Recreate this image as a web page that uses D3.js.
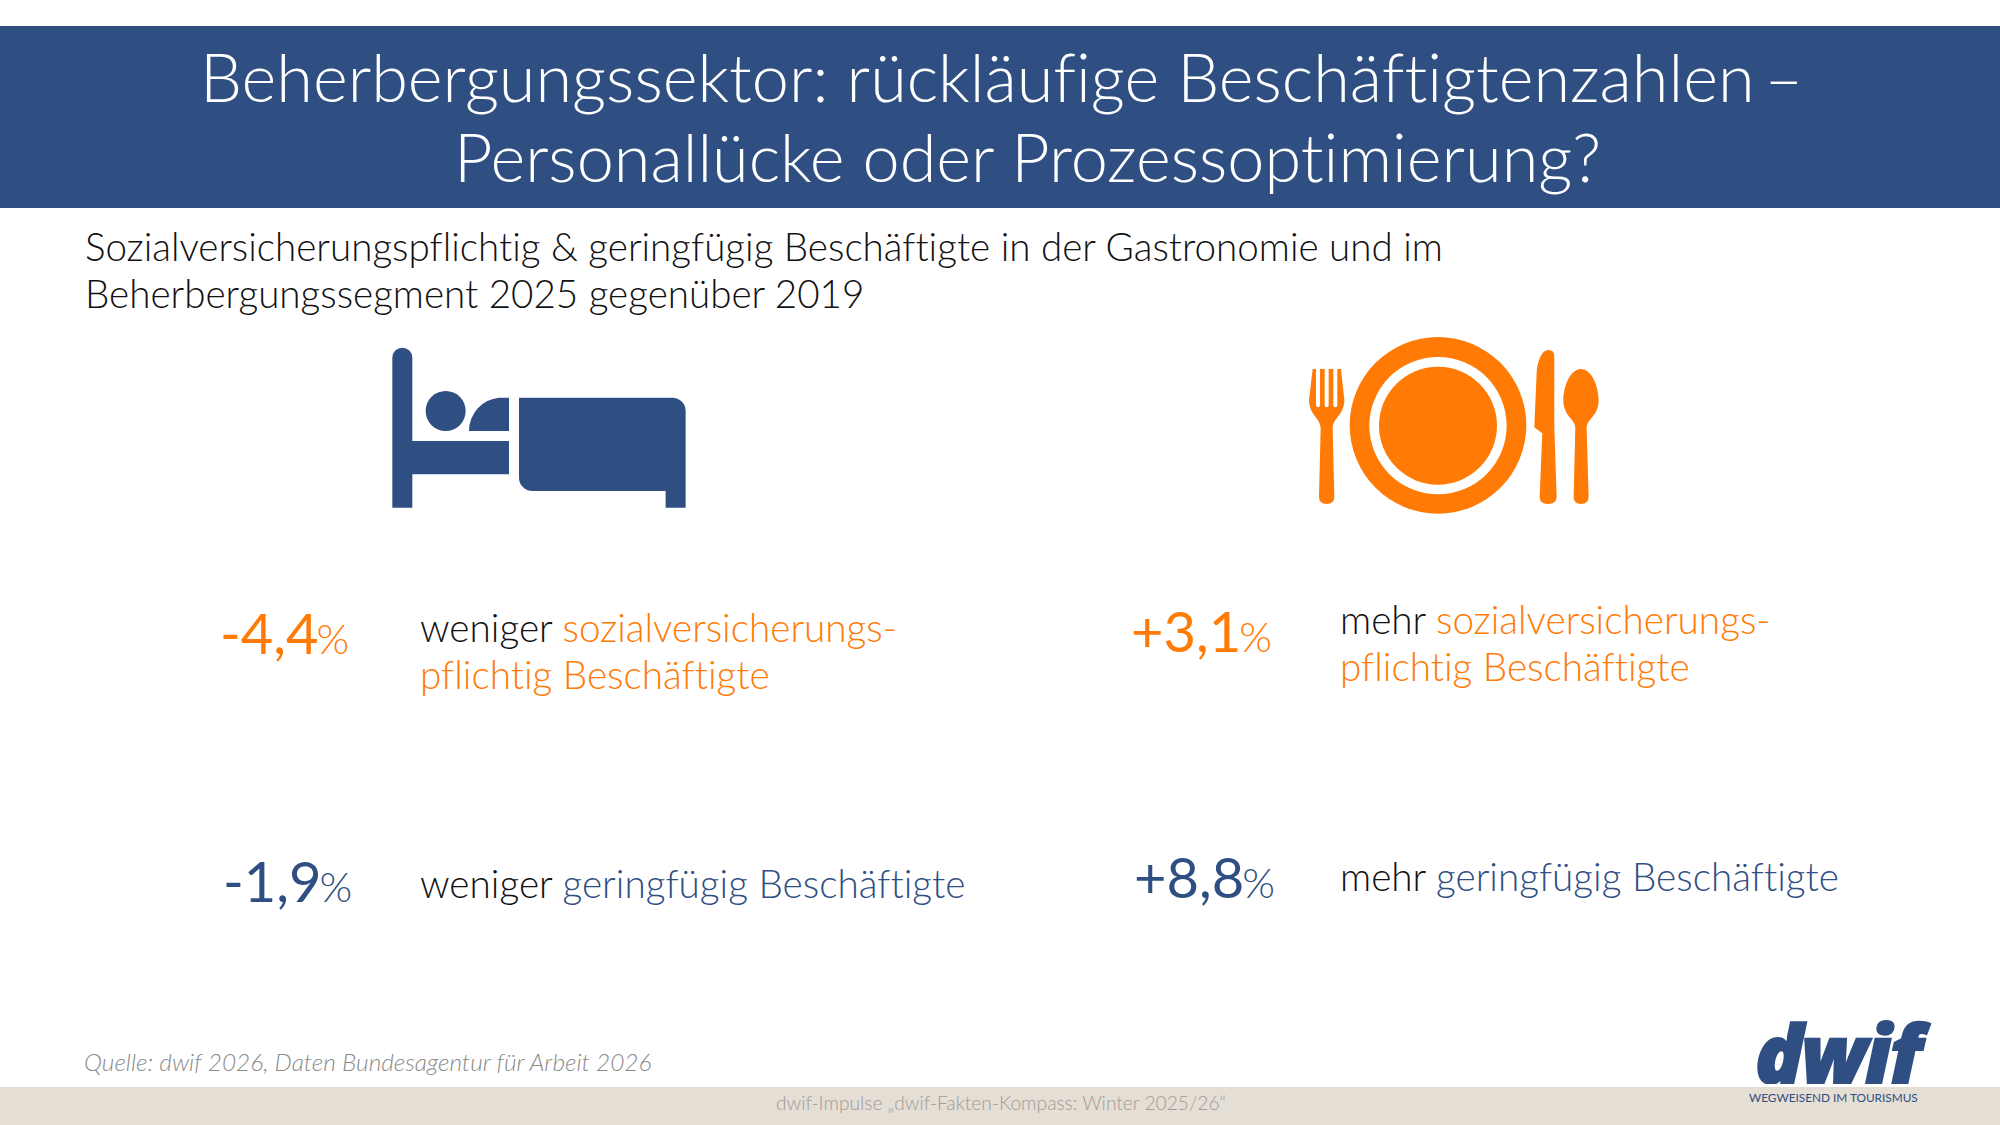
<!DOCTYPE html>
<html lang="de">
<head>
<meta charset="utf-8">
<script src="https://cdn.jsdelivr.net/npm/d3@7"></script>
<style>
  html, body { margin: 0; padding: 0; background: #fff; }
  text { font-family: Lato, sans-serif; font-weight: 300; font-variant-ligatures: none; }
</style>
</head>
<body>
<div id="chart"></div>
<script>
const titleLines = ['Beherbergungssektor: rückläufige Beschäftigtenzahlen', 'Personallücke oder Prozessoptimierung?'];
const subtitleLines = ['Sozialversicherungspflichtig & geringfügig Beschäftigte in der Gastronomie und im', 'Beherbergungssegment 2025 gegenüber 2019'];
const changeBeherbergung = [-4.4, -1.9];
const changeGastronomie = [3.1, 8.8];
const labelOne = ['sozialversicherungs-', 'pflichtig Beschäftigte'];
const labelTwo = ['geringfügig Beschäftigte'];
const sourceText = 'Quelle: dwif 2026, Daten Bundesagentur für Arbeit 2026';
const footerText = 'dwif-Impulse „dwif-Fakten-Kompass: Winter 2025/26“';

const blue = '#2f4f82', orange = '#ff7b06', ink = '#111';
const width = 2000, height = 1125;

const svg = d3.select('#chart').append('svg')
    .attr('width', width)
    .attr('height', height)
    .style('display', 'block');

// header + footer bands
svg.append('rect').attr('x', 0).attr('y', 26).attr('width', width).attr('height', 182).attr('fill', blue);
svg.append('rect').attr('x', 0).attr('y', 1087).attr('width', width).attr('height', 38).attr('fill', '#e5ded4');

const title = svg.selectAll('.title').data(titleLines).join('text')
    .attr('class', 'title')
    .attr('x', (d, i) => i ? 454 : 200)
    .attr('y', (d, i) => 102 + i * 80)
    .attr('fill', '#fff')
    .style('font-size', '66.6px')
    .text(d => d);

// the dash sits a bit closer to the first line than a normal space
svg.select('.title').append('tspan').attr('dx', 10).text('–');

svg.selectAll('.subtitle').data(subtitleLines).join('text')
    .attr('class', 'subtitle')
    .attr('x', 85)
    .attr('y', (d, i) => 261 + i * 47)
    .attr('fill', ink)
    .style('font-size', '38.6px')
    .text(d => d);

// bed icon, drawn in zoomed picture units (1/3 px)
const bed = svg.append('g').attr('transform', 'translate(350,320) scale(0.3333)').attr('fill', blue);
bed.append('path').attr('d', 'M127,563V113a30,30 0 0 1 60,0V363H477V463H187V563Z');
bed.append('circle').attr('cx', 287).attr('cy', 273).attr('r', 60);
bed.append('path').attr('d', 'M357,333A100,100 0 0 1 447,233H477V333Z');
bed.append('path').attr('d', 'M507,233H967a40,40 0 0 1 40,40V563H947V513H547a40,40 0 0 1 -40,-40Z');

// cutlery icon
const cutlery = svg.append('g').attr('transform', 'translate(1280,320) scale(0.3333)').attr('fill', orange);
cutlery.append('path').attr('fill-rule', 'evenodd')
    .attr('d', 'M474,51A265,265 0 1 0 474,581A265,265 0 1 0 474,51ZM474,111A206,206 0 1 1 474,523A206,206 0 1 1 474,111Z');
cutlery.append('circle').attr('cx', 474).attr('cy', 317).attr('r', 177);
cutlery.append('path').attr('d', 'M98,147H108V255Q108,262 114,262Q120,262 120,255V147H134V255Q134,262 140,262Q146,262 146,255V147H160V255Q160,262 166,262Q172,262 172,255V147H183L193,240C193,285 158,295 158,325L163,530Q163,552 140,552Q117,552 117,530L122,325C122,295 87,285 87,240Z');
cutlery.append('path').attr('d', 'M805,90Q823,90 823,108V320L830,530Q830,552 804,552Q779,552 779,530L787,340L763,322L770,160C772,125 785,90 805,90Z');
cutlery.append('path').attr('d', 'M903,147C935,147 956,200 956,240C956,290 920,295 920,325L926,530Q926,552 903,552Q881,552 881,530L886,325C886,295 850,290 850,240C850,200 871,147 903,147Z');

// one statement: signed value with %, lead word and coloured label
const fmt = v => (v > 0 ? '+' : '-') + String(Math.abs(v).toFixed(1)).replace('.', ',');

function statement(value, color, numX, numY, textX, textY, lead, lines) {
  const num = svg.append('text').attr('x', numX).attr('y', numY).attr('fill', color);
  num.append('tspan').style('font-size', '56px').style('font-weight', 400).text(fmt(value));
  num.append('tspan').attr('dx', -2).style('font-size', '42px').text('%');
  const t = svg.append('text').attr('x', textX).attr('y', textY).style('font-size', '38.7px');
  t.append('tspan').attr('fill', ink).text(lead + ' ');
  t.append('tspan').attr('fill', color).text(lines[0]);
  if (lines[1]) {
    svg.append('text').attr('x', textX).attr('y', textY + 47).style('font-size', '38.7px').attr('fill', color).text(lines[1]);
  }
}

statement(changeBeherbergung[0], orange, 220, 654, 420, 642, 'weniger', labelOne);
statement(changeBeherbergung[1], blue, 223, 902, 420, 898, 'weniger', labelTwo);
statement(changeGastronomie[0], orange, 1131, 652, 1340, 634, 'mehr', labelOne);
statement(changeGastronomie[1], blue, 1134, 898, 1340, 891, 'mehr', labelTwo);

svg.append('text').attr('x', 84).attr('y', 1071)
    .attr('fill', '#8a8a8a')
    .style('font-size', '24.4px').style('font-style', 'italic')
    .text(sourceText);

svg.append('text').attr('x', 1001).attr('y', 1110)
    .attr('text-anchor', 'middle')
    .attr('fill', '#a09c98')
    .style('font-size', '19.2px')
    .text(footerText);

// logo, the f tail is cut off at the baseline so the tagline stays readable
svg.append('clipPath').attr('id', 'logo-clip')
  .append('rect').attr('x', 1700).attr('y', 1000).attr('width', 300).attr('height', 84);
svg.append('text').attr('x', 1755).attr('y', 1083)
    .attr('clip-path', 'url(#logo-clip)')
    .attr('fill', blue)
    .style('font-family', '"Open Sans", sans-serif')
    .style('font-size', '80px').style('font-weight', 800).style('font-style', 'italic')
    .style('letter-spacing', '-2px')
    .attr('stroke', blue).attr('stroke-width', 2)
    .text('dwif');
svg.append('text').attr('x', 1749).attr('y', 1102)
    .attr('fill', blue)
    .style('font-size', '11.8px').style('font-weight', 400)
    .text('WEGWEISEND IM TOURISMUS');
</script>
</body>
</html>
